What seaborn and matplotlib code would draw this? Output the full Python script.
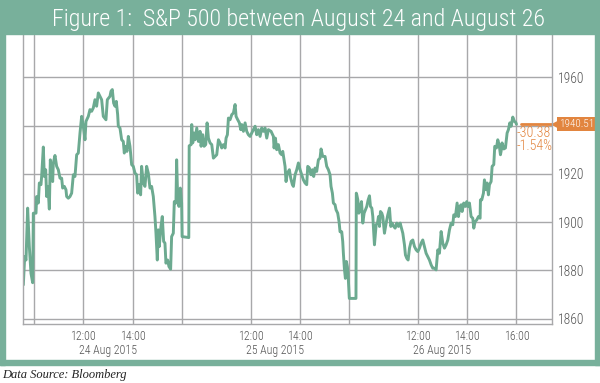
import matplotlib.pyplot as plt
import matplotlib.transforms as mtransforms
from matplotlib.patches import Rectangle
import seaborn as sns
import pandas as pd

# S&P 500 intraday, minutes after the 9:30 open and index level, per session
d1_min = [4.2, 7.5, 10.7, 14.7, 18.8, 22.8, 26.9, 28.5, 35, 36.6, 40.6, 43.1, 47.1, 48.7, 52.8,
          55.2, 58.5, 60.9, 64.1, 67.4, 69.8, 73, 75.5, 77.1, 81.1, 85.2, 89.2, 93.3, 97.3, 99.8,
          103.8, 107.8, 109.5, 113.5, 117.6, 121.6, 125.7, 129.7, 133.8, 137.8, 141.9, 145.9,
          149.9, 154, 156.4, 162.1, 166.1, 170.2, 174.2, 178.3, 182.3, 186.4, 190.4, 194.5,
          198.5, 205, 208.3, 214.7,
          217.2, 220.4, 223.6, 226.9, 230.1, 233.4, 235, 239, 243.1, 247.1, 249.5, 252.8, 256,
          259.3, 263.3, 267.4, 271.4, 275.5, 279.5, 281.9, 285.2, 289.2, 291.6, 295.7, 299.7,
          303.8, 307.8, 311.9, 315.9, 320, 324, 326.5, 329.7, 332.1, 334.5, 338.6, 341.8, 345.1,
          348.3, 350.7, 354.8, 358, 362.1, 364.5, 368.6, 371, 375, 376.7, 379.1, 382.3, 385.6,
          388.8, 390]
d1_val = [1874.0, 1885.7, 1884.3, 1905.8, 1889.9, 1878.8, 1874.9, 1903.7, 1903.7, 1910.6, 1907.9,
          1916.2, 1915.5, 1918.9, 1931.1, 1918.9, 1921.7, 1910.6, 1914.8, 1905.4, 1925.8, 1920.3,
          1916.8, 1924.5, 1927.6, 1923.1, 1921.7, 1918.2, 1918.2, 1914.1, 1914.8, 1913.4, 1910.6,
          1909.9, 1910.6, 1912.0, 1919.6, 1918.9, 1927.9, 1928.6, 1936.9, 1943.8, 1939.7, 1934.1,
          1941.7, 1943.8, 1946.6, 1945.9, 1947.3, 1950.7, 1948.0, 1953.5, 1952.1, 1950.7, 1943.8,
          1942.4, 1950.7, 1952.1,
          1954.2, 1954.9, 1949.3, 1948.0, 1950.0, 1944.5, 1939.7, 1939.0, 1934.1, 1933.4, 1928.6,
          1931.4, 1929.3, 1935.5, 1931.4, 1923.8, 1923.1, 1920.3, 1919.6, 1912.0, 1915.5, 1911.3,
          1923.1, 1916.2, 1914.8, 1923.1, 1920.3, 1914.1, 1914.8, 1910.6, 1902.3, 1895.4, 1884.3,
          1896.8, 1889.9, 1898.2, 1902.3, 1892.0, 1891.3, 1883.0, 1884.3, 1881.6, 1880.5, 1894.0,
          1895.4, 1908.5, 1907.9, 1925.8, 1910.6, 1906.5, 1914.1, 1907.9, 1894.0]

d2_min = [0, 1, 5.6, 7.2, 9.6, 12.9, 15.3, 19.4, 23.4, 27.4, 29.9, 33.9, 37.2, 41.2, 44.5, 47.7,
          51.7, 55.8, 59.8, 63.9, 67.9, 72, 76, 80.1, 84.1, 88.2, 90.6, 93.8, 96.3, 100.3, 104.4,
          108.4, 112.5, 114.9, 118.9, 123, 126.2, 128.7, 132.7, 136.8, 140.8, 144.8, 148.9, 153,
          157, 161.1, 165.1, 169.1, 173.2, 177.2, 181.3, 185.3, 189.4, 193.4, 199.9, 205.6,
          207.2, 210.4, 213.7, 217.7, 221.8, 225.8, 228.3, 231.5, 233.9, 236.3, 239.6, 244.4,
          247.7, 251.7, 254.2, 258.2, 262.3, 266.3, 270.4, 274.4, 278.4, 282.5, 286.5, 289, 293,
          297.1, 300.3, 303.5, 306.8, 310.8, 314.9, 318.9, 321.4, 325.4, 331.1, 335.1, 339.2,
          343.2, 345.6, 348.9, 351.3, 355.4, 357.8, 361.8, 365.1, 367.5, 371.6, 374, 375.6, 378,
          380.5, 382.9, 385.3, 386.9, 390]
d2_val = [1893.6, 1931.6, 1932.1, 1940.4, 1932.8, 1936.9, 1934.1, 1939.0, 1933.4, 1937.6, 1931.4,
          1936.2, 1931.4, 1932.1, 1941.1, 1934.8, 1932.8, 1932.1, 1926.5, 1927.2, 1927.9, 1934.1,
          1932.8, 1930.7, 1932.1, 1930.7, 1934.8, 1936.2, 1943.1, 1942.4, 1944.5, 1945.2, 1948.7,
          1943.8, 1942.4, 1941.1, 1938.3, 1940.4, 1937.6, 1941.1, 1937.6, 1936.2, 1935.5, 1936.9,
          1938.3, 1939.7, 1936.2, 1938.3, 1935.5, 1939.0, 1937.6, 1939.0, 1934.8, 1938.3, 1937.6,
          1935.5,
          1930.7, 1934.8, 1930.0, 1932.1, 1928.6, 1927.9, 1929.3, 1925.8, 1923.1, 1916.8, 1920.3,
          1921.7, 1918.2, 1915.5, 1914.8, 1919.6, 1921.7, 1924.5, 1921.7, 1919.6, 1917.5, 1916.2,
          1915.5, 1923.1, 1922.4, 1919.6, 1921.7, 1918.9, 1922.4, 1921.0, 1925.8, 1926.5, 1930.3,
          1927.2, 1927.2, 1923.1, 1921.7, 1919.6, 1914.8, 1912.0, 1907.9, 1907.2, 1905.1, 1903.7,
          1900.2, 1896.0, 1896.0, 1892.0, 1887.1, 1880.9, 1876.7, 1883.7, 1881.6, 1878.8, 1868.4]

d3_min = [0, 0.8, 2.0, 4.5, 6.9, 10.1, 13.4, 16.6, 19.8, 23.1, 26.3, 29.6, 32.8, 35.2, 38.5, 40.9,
          44.9, 49, 52.2, 54.7, 57.1, 59.5, 62.8, 65.2, 69.2, 73.3, 77.3, 81.4, 84.6, 87.8, 91.9,
          95.1, 99.2, 103.2, 107.3, 110.5, 113.8, 117.8, 120.2, 123.5, 126.7, 130, 134, 138.1,
          142.1, 146.2, 150.2, 154.2, 158.3, 162.3, 166.4, 170.4, 174.5, 178.5, 182.6, 186.6,
          190.7, 194.7, 198.8,
          202.8, 206.9, 210.9, 215, 219, 223.1, 227.1, 231.2, 235.2, 237.6, 241.7, 245.7, 249,
          252.2, 255.5, 257.9, 261.9, 266, 269.2, 271.6, 275.7, 279.7, 283.8, 286.2, 289.5, 293.5,
          297.6, 301.6, 302.4, 305.6, 309.7, 312.1, 316.2, 318.6, 321.8, 324.3, 328.3, 330.8,
          334.8, 337.2, 341.3, 344.5, 347.8, 351, 352.6, 355, 359.1, 363.1, 367.2, 370.4, 373.7,
          376.9, 381, 385, 388.2, 390]
d3_val = [1868.4, 1912.0, 1911.3, 1909.2, 1903.7, 1905.8, 1908.5, 1899.6, 1903.7, 1905.1, 1906.5,
          1909.2, 1910.9, 1906.5, 1905.8, 1902.3, 1890.6, 1898.9, 1899.6, 1902.3, 1898.2, 1904.4,
          1903.7, 1902.3, 1895.4, 1899.6, 1903.0, 1905.8, 1898.2, 1899.6, 1898.2, 1897.5, 1899.6,
          1898.2, 1899.6, 1897.5, 1895.4, 1890.6, 1886.4, 1885.0, 1884.3, 1889.2, 1892.0, 1892.6,
          1889.9, 1888.5, 1887.8, 1889.2, 1891.3, 1892.6, 1889.9, 1887.1, 1885.7, 1884.3, 1882.3,
          1880.9, 1880.9, 1880.2, 1888.5,
          1887.1, 1896.1, 1891.3, 1889.2, 1890.6, 1892.6, 1896.8, 1899.6, 1898.9, 1903.0, 1902.3,
          1907.9, 1902.3, 1906.5, 1907.2, 1904.4, 1907.9, 1906.5, 1908.5, 1906.5, 1907.9, 1902.3,
          1901.6, 1897.5, 1900.2, 1900.9, 1902.3, 1901.6, 1909.2, 1909.2, 1912.0, 1917.5, 1913.4,
          1916.2, 1911.3, 1915.5, 1916.8, 1923.1, 1923.8, 1931.4, 1930.7, 1934.1, 1932.1, 1927.9,
          1929.3, 1932.8, 1930.3, 1930.7, 1936.9, 1938.3, 1941.1, 1939.7, 1943.5, 1941.7, 1941.3,
          1940.51]

day_labels = ['24 Aug 2015', '25 Aug 2015', '26 Aug 2015']
last_value = 1940.51
change_pts = '-30.38'
change_pct = '-1.54%'
y_ticks = [1860, 1880, 1900, 1920, 1940, 1960]
y_labels = ['1860', '1880', '1900', '1920', '', '1960']

GREEN = '#78b09b'
LINE = '#6caa90'
ORANGE = '#e2853f'
GRID = '#a8a8aa'
TXT = '#555555'

DAY = 6.77  # hours from one open to the next on the compressed time axis

sns.set_style('white')
plt.rcParams['font.family'] = ['Roboto Condensed', 'Liberation Sans', 'DejaVu Sans']
plt.rcParams['font.weight'] = 'light'

frames = []
for i, (mins, vals) in enumerate([(d1_min, d1_val), (d2_min, d2_val), (d3_min, d3_val)]):
    frames.append(pd.DataFrame({'t': [i * DAY + m / 60 for m in mins], 'spx': vals}))
df = pd.concat(frames, ignore_index=True)

fig = plt.figure(figsize=(6, 3.83), dpi=100)

# green frame and title band
fig.patches.append(Rectangle((0, 1 - 33.5 / 383), 1, 33.5 / 383, transform=fig.transFigure,
                             color=GREEN, zorder=0))
fig.patches.append(Rectangle((0, 1 - 364.5 / 383), 5 / 600, 364.5 / 383, transform=fig.transFigure,
                             color=GREEN, zorder=0))
fig.patches.append(Rectangle((595 / 600, 1 - 364.5 / 383), 5 / 600, 364.5 / 383,
                             transform=fig.transFigure, color=GREEN, zorder=0))
fig.patches.append(Rectangle((0, 1 - 364.5 / 383), 1, 5 / 383, transform=fig.transFigure,
                             color=GREEN, zorder=0))
fig.text(0.4975, 1 - 26 / 383, 'Figure 1:  S&P 500 between August 24 and August 26',
         ha='center', va='baseline', color='white', size=17.3)
fig.text(2 / 600, 1 - 378 / 383, 'Data Source: Bloomberg', ha='left', va='baseline',
         family='Liberation Serif', style='italic', weight='normal', size=9, color='#222222')

ax = fig.add_axes([23.3 / 600, 1 - 324 / 383, 529 / 600, 289 / 383])
ax.set_facecolor('none')
sns.lineplot(data=df, x='t', y='spx', estimator=None, sort=False, color=LINE, lw=2.1, ax=ax)

xt = [0.5, 2.5, 4.5, 6.5, DAY + 2.5, DAY + 4.5, DAY + 6.5, 2 * DAY + 2.5, 2 * DAY + 4.5, 2 * DAY + 6.5]
xl = ['', '12:00', '14:00', '', '12:00', '14:00', '', '12:00', '14:00', '16:00']
ax.set_xticks(xt)
ax.set_xticklabels(xl)
ax.set_yticks(y_ticks)
ax.set_yticklabels(y_labels)
ax.set_xlim(0.069, 21.49)
ax.set_ylim(1857.8, 1977.5)
ax.set_xlabel('')
ax.set_ylabel('')
ax.yaxis.tick_right()
ax.grid(True, color=GRID, lw=1)
ax.set_axisbelow(True)
ax.tick_params(axis='x', length=0, pad=4.5, labelsize=8.6, labelcolor=TXT)
ax.tick_params(axis='y', length=0, pad=4, labelsize=9.8, labelcolor=TXT)
for side in ['left', 'right', 'bottom']:
    ax.spines[side].set_color(GRID)
    ax.spines[side].set_linewidth(1)
ax.spines['top'].set_visible(False)

trans = mtransforms.blended_transform_factory(ax.transData, ax.transAxes)
for i, lab in enumerate(day_labels):
    ax.text(i * DAY + 3.5, -0.068, lab, transform=trans, ha='center', va='top',
            size=8.6, color=TXT)

# last value marker
t_end = df['t'].iloc[-1]
ax.plot([t_end + 0.2, 21.49], [last_value, last_value], color=ORANGE, lw=2, clip_on=False)
ax.text(20.04, 1935.4, change_pts, ha='left', va='baseline', size=10, color=ORANGE)
ax.text(20.04, 1930.0, change_pct, ha='left', va='baseline', size=10, color=ORANGE)
rtrans = mtransforms.blended_transform_factory(ax.transAxes, ax.transData)
ax.plot([1.006], [last_value], marker='<', ms=7, color=ORANGE, mec='none',
        transform=rtrans, clip_on=False)
ax.annotate(f'{last_value:.2f}', xy=(1, last_value), xycoords=rtrans, xytext=(7, 0),
            textcoords='offset pixels', ha='left', va='center', size=8, color='white',
            bbox=dict(boxstyle='square,pad=0.18', fc=ORANGE, ec='none'))

fig.savefig('out.png', dpi=100)
